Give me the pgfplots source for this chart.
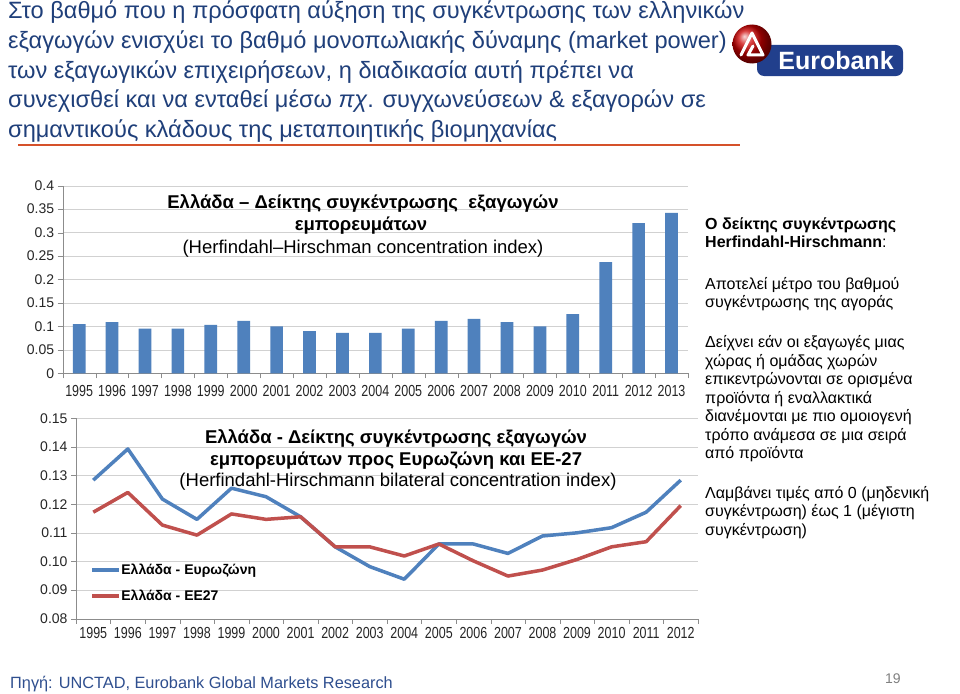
\documentclass[border=0pt]{standalone}
\usepackage{fontspec}
\setmainfont{Liberation Sans}
\newfontfamily\narrowfont[FakeStretch=0.78]{Liberation Sans}
\usepackage{pgfplots}
\usepackage{pgfplotstable}
\pgfplotsset{compat=1.18}

\definecolor{barblue}{HTML}{4F81BD}
\definecolor{linered}{HTML}{C0504D}
\definecolor{titleblue}{HTML}{1F3F7A}
\definecolor{srcblue}{HTML}{2F4F8F}
\definecolor{logoblue}{HTML}{213F8C}
\definecolor{rule}{HTML}{D5512A}

% HH index, exports (Greece)
\pgfplotstableread{
year hh
1995 0.105
1996 0.109
1997 0.095
1998 0.095
1999 0.103
2000 0.112
2001 0.100
2002 0.090
2003 0.086
2004 0.086
2005 0.095
2006 0.112
2007 0.116
2008 0.109
2009 0.100
2010 0.126
2011 0.237
2012 0.320
2013 0.342
}\hhtable

% bilateral HH index: euro area / EU27
\pgfplotstableread{
year ez eu
1995 0.1284 0.1172
1996 0.1393 0.1241
1997 0.1218 0.1127
1998 0.1147 0.1092
1999 0.1256 0.1166
2000 0.1226 0.1147
2001 0.1156 0.1156
2002 0.1051 0.1051
2003 0.0982 0.1051
2004 0.0938 0.1019
2005 0.1061 0.1061
2006 0.1061 0.1002
2007 0.1028 0.0949
2008 0.1089 0.0970
2009 0.1100 0.1007
2010 0.1118 0.1051
2011 0.1172 0.1069
2012 0.1284 0.1195
}\biltable

\pgfplotsset{
  hhaxis/.style={
    scale only axis, anchor=north west,
    axis x line=bottom, axis y line=left,
    axis line style={black!45,-},
    ymajorgrids, grid style={black!18},
    tick align=outside, major tick length=5pt,
    tick style={black!45},
    x tick label as interval,
    xticklabel style={font=\narrowfont\fontsize{16}{18}\selectfont, text=black!85},
    yticklabel style={font=\fontsize{14}{16}\selectfont, text=black!85},
    /pgf/number format/assume math mode=true,
    enlargelimits=false, clip=false,
  },
}

\begin{document}
\begin{tikzpicture}
\path[use as bounding box, fill=white] (0,0) rectangle (960pt,-693pt);

% heading
\begin{scope}[every node/.style={anchor=base west, inner sep=0pt, text=titleblue, font=\fontsize{23.6}{28}\selectfont}]
\node at (8pt,-19pt) {Στο βαθμό που η πρόσφατη αύξηση της συγκέντρωσης των ελληνικών};
\node at (8pt,-48.5pt) {εξαγωγών ενισχύει το βαθμό μονοπωλιακής δύναμης (market power)};
\node at (8pt,-78pt) {των εξαγωγικών επιχειρήσεων, η διαδικασία αυτή πρέπει να};
\node at (8pt,-107.5pt) {συνεχισθεί και να ενταθεί μέσω \textit{πχ}. συγχωνεύσεων \& εξαγορών σε};
\node at (8pt,-137pt) {σημαντικούς κλάδους της μεταποιητικής βιομηχανίας};
\end{scope}
\draw[rule, line width=1.5pt] (18pt,-145pt) -- (740pt,-145pt);

% logo
\fill[logoblue, rounded corners=7pt] (757pt,-45pt) rectangle (903pt,-76pt);
\node[text=white, font=\bfseries\fontsize{25}{25}\selectfont] at (836pt,-61pt) {Eurobank};
\shade[ball color=red!80!black] (752pt,-44pt) circle (19.5pt);
\draw[white, line width=3pt, line join=round, line cap=round]
  (741pt,-55pt) -- (752pt,-33pt) -- (763pt,-55pt) -- (748pt,-55pt) -- (753pt,-46pt);

% top chart: HH concentration index
\begin{axis}[hhaxis,
  at={(62.7pt,-185.7pt)}, width=625.3pt, height=187.6pt,
  xmin=-0.5, xmax=18.5, ymin=0, ymax=0.4,
  ytick={0,0.05,...,0.4},
  yticklabel style={/pgf/number format/.cd, fixed, precision=2},
  xtick={-0.5,0.5,...,18.5},
  xticklabels={1995,1996,1997,1998,1999,2000,2001,2002,2003,2004,2005,2006,2007,2008,2009,2010,2011,2012,2013},
  xticklabel style={yshift=-3pt},
  ybar, bar width=12.7pt,
]
\addplot[fill=barblue, draw=none] table[x expr=\coordindex, y=hh] {\hhtable};
\end{axis}

\begin{scope}[every node/.style={inner sep=0pt, font=\fontsize{18.5}{20}\selectfont}]
\node at (363pt,-203pt) {\textbf{Ελλάδα – Δείκτης συγκέντρωσης\ \ εξαγωγών}};
\node at (361pt,-226pt) {\textbf{εμπορευμάτων}};
\node at (363pt,-249pt) {(Herfindahl–Hirschman concentration index)};
\end{scope}

% bottom chart: bilateral HH index
\begin{axis}[hhaxis,
  at={(76pt,-418.3pt)}, width=622pt, height=200.4pt,
  xmin=-0.5, xmax=17.5, ymin=0.08, ymax=0.15,
  ytick={0.08,0.09,...,0.151},
  yticklabel style={/pgf/number format/.cd, fixed, fixed zerofill, precision=2},
  xtick={-0.5,0.5,...,17.5},
  xticklabels={1995,1996,1997,1998,1999,2000,2001,2002,2003,2004,2005,2006,2007,2008,2009,2010,2011,2012},
  legend style={at={(0.018,0.178)}, anchor=west, draw=none, fill=none,
    font=\bfseries\fontsize{14}{16}\selectfont, row sep=13pt,
    nodes={inner sep=0.5pt}},
  legend cell align=left,
  legend image code/.code={\draw[#1, line width=3.5pt] (0pt,0pt) -- (27pt,0pt);},
]
\addplot[barblue, line width=3.5pt, line join=round] table[x expr=\coordindex, y=ez] {\biltable};
\addlegendentry{Ελλάδα - Ευρωζώνη}
\addplot[linered, line width=3.5pt, line join=round] table[x expr=\coordindex, y=eu] {\biltable};
\addlegendentry{Ελλάδα - ΕΕ27}
\end{axis}

\begin{scope}[every node/.style={inner sep=0pt, font=\fontsize{18.5}{20}\selectfont}]
\node at (396pt,-438pt) {\textbf{Ελλάδα - Δείκτης συγκέντρωσης εξαγωγών}};
\node at (396pt,-461pt) {\textbf{εμπορευμάτων προς Ευρωζώνη και ΕΕ-27}};
\node at (398pt,-482pt) {(Herfindahl-Hirschmann bilateral concentration index)};
\end{scope}

% note on the right
\begin{scope}[every node/.style={anchor=base west, inner sep=0pt, font=\fontsize{16}{18}\selectfont}]
\node at (705pt,-229pt) {\textbf{Ο δείκτης συγκέντρωσης}};
\node at (705pt,-247.5pt) {\textbf{Herfindahl-Hirschmann}:};
\node at (705pt,-289pt) {Αποτελεί μέτρο του βαθμού};
\node at (705pt,-307.5pt) {συγκέντρωσης της αγοράς};
\node at (705pt,-347.5pt) {Δείχνει εάν οι εξαγωγές μιας};
\node at (705pt,-366pt) {χώρας ή ομάδας χωρών};
\node at (705pt,-384.5pt) {επικεντρώνονται σε ορισμένα};
\node at (705pt,-403pt) {προϊόντα ή εναλλακτικά};
\node at (705pt,-421.5pt) {διανέμονται με πιο ομοιογενή};
\node at (705pt,-440pt) {τρόπο ανάμεσα σε μια σειρά};
\node at (705pt,-458.5pt) {από προϊόντα};
\node at (705pt,-498pt) {Λαμβάνει τιμές από 0 (μηδενική};
\node at (705pt,-516.5pt) {συγκέντρωση) έως 1 (μέγιστη};
\node at (705pt,-535pt) {συγκέντρωση)};
\end{scope}

% footer
\node[anchor=base west, inner sep=0pt, text=srcblue, font=\fontsize{16.3}{18}\selectfont] at (10pt,-688pt) {Πηγή: UNCTAD, Eurobank Global Markets Research};
\node[anchor=base west, inner sep=0pt, text=black!50, font=\fontsize{14}{16}\selectfont] at (885pt,-683pt) {19};
\end{tikzpicture}
\end{document}
